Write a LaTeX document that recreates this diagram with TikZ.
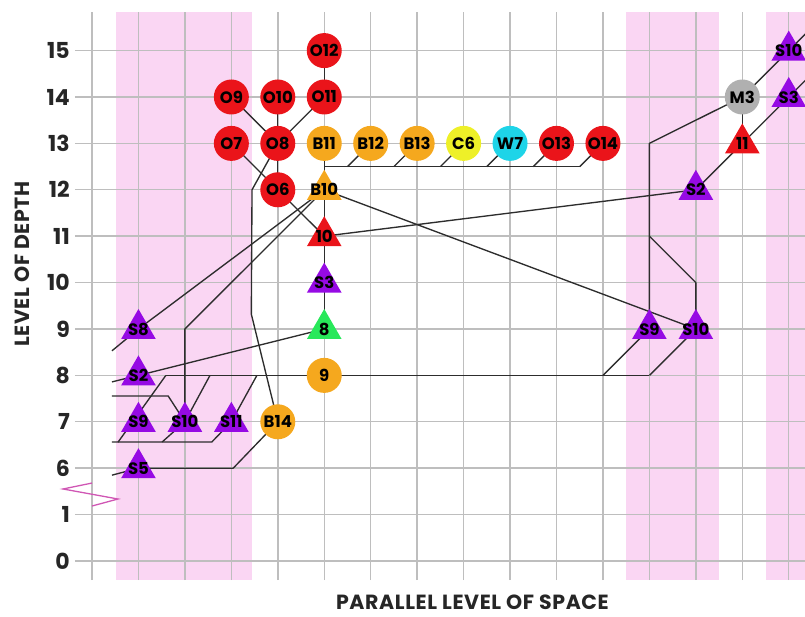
\documentclass[tikz,border=0pt]{standalone}
\usepackage{fontspec}
\setmainfont{Poppins}
\usetikzlibrary{shapes.geometric}
\pgfdeclarelayer{bands}
\pgfdeclarelayer{gridl}
\pgfdeclarelayer{edges}
\pgfsetlayers{bands,gridl,edges,main}
\definecolor{nred}{RGB}{234,20,26}
\definecolor{norange}{RGB}{245,168,30}
\definecolor{nyellow}{RGB}{238,240,40}
\definecolor{ncyan}{RGB}{30,212,232}
\definecolor{npurple}{RGB}{150,10,228}
\definecolor{ngreen}{RGB}{40,232,90}
\definecolor{ngray}{RGB}{176,176,176}
\definecolor{bandc}{RGB}{250,214,243}
\definecolor{gridc}{RGB}{190,190,190}
\definecolor{edgec}{RGB}{45,45,45}
\definecolor{zigc}{RGB}{208,86,180}
\begin{document}
\begin{tikzpicture}[x=46.45pt,y=46.4pt,
  circ/.style={circle, fill=#1, minimum size=35pt, inner sep=0pt},
  tri/.style={regular polygon, regular polygon sides=3, fill=#1, minimum size=40pt, inner sep=0pt},
  labtext/.style={inner sep=0pt, text=black, font=\fontsize{16.5}{16.5}\selectfont\bfseries},
  lab/.style={label={[labtext]center:#1}},
  gridline/.style={draw=gridc, line width=1.4pt},
  edge/.style={draw=edgec, line width=1.35pt, line join=round},
  axnum/.style={font=\fontsize{22}{22}\selectfont\bfseries, text=black!85, inner sep=0pt},
  axtitle/.style={font=\fontsize{20.5}{20.5}\selectfont\bfseries\addfontfeature{LetterSpace=3}, text=black!85, inner sep=0pt},
  zig/.style={draw=zigc, line width=1.3pt, line join=miter}]
\useasboundingbox (-1.9806,-1.2069) rectangle (15.3498,12.0905);
\clip (-1.9806,-1.2069) rectangle (15.3498,12.0905);
\begin{pgfonlayer}{bands}
  \fill[bandc] (0.517,-0.41) rectangle (3.445,11.83);
  \fill[bandc] (11.5,-0.41) rectangle (13.5,11.83);
  \fill[bandc] (14.5,-0.41) rectangle (16,11.83);
\end{pgfonlayer}
\begin{pgfonlayer}{gridl}
  \foreach \c in {0,...,16} \draw[gridline] (\c,-0.41) -- (\c,11.83);
  \foreach \r in {0,...,11} \draw[gridline] (-0.366,\r) -- (16,\r);
\end{pgfonlayer}
% axis labels
\foreach \r/\t in {0/0,1/1,2/6,3/7,4/8,5/9,6/10,7/11,8/12,9/13,10/14,11/15}
  \node[axnum, anchor=east] (ax\r) at (-0.474,\r) {\t};
\node[axtitle, rotate=90] (ytitle) at (-1.507,6.40) {LEVEL OF DEPTH};
\node[axtitle] (xtitle) at (8.19,-0.884) {PARALLEL LEVEL OF SPACE};
% break mark
\draw[zig] (0,1.68) -- (-0.624,1.552) -- (0.56,1.336) -- (0,1.185);
% nodes
\node[circ=nred, lab=O12] (O12) at (5,11) {};
\node[circ=nred, lab=O9] (O9) at (3,10) {};
\node[circ=nred, lab=O10] (O10) at (4,10) {};
\node[circ=nred, lab=O11] (O11) at (5,10) {};
\node[circ=nred, lab=O7] (O7) at (3,9) {};
\node[circ=nred, lab=O8] (O8) at (4,9) {};
\node[circ=norange, lab=B11] (B11) at (5,9) {};
\node[circ=norange, lab=B12] (B12) at (6,9) {};
\node[circ=norange, lab=B13] (B13) at (7,9) {};
\node[circ=nyellow, lab=C6] (C6) at (8,9) {};
\node[circ=ncyan, lab=W7] (W7) at (9,9) {};
\node[circ=nred, lab=O13] (O13) at (10,9) {};
\node[circ=nred, lab=O14] (O14) at (11,9) {};
\node[circ=nred, lab=O6] (O6) at (4,8) {};
\node[tri=norange, lab=B10] (B10) at (5,8) {};
\node[tri=nred, lab=10] (T10) at (5,7) {};
\node[tri=npurple, lab=S3] (S3) at (5,6) {};
\node[tri=ngreen, lab=8] (T8) at (5,5) {};
\node[circ=norange, lab=9] (C9) at (5,4) {};
\node[tri=npurple, lab=S8] (S8) at (1,5) {};
\node[tri=npurple, lab=S2] (S2) at (1,4) {};
\node[tri=npurple, lab=S9] (S9) at (1,3) {};
\node[tri=npurple, lab=S10] (S10) at (2,3) {};
\node[tri=npurple, lab=S11] (S11) at (3,3) {};
\node[tri=npurple, lab=S5] (S5) at (1,2) {};
\node[circ=norange, lab=B14] (B14) at (4,3) {};
\node[tri=npurple, lab=S9] (S9r) at (12,5) {};
\node[tri=npurple, lab=S10] (S10r) at (13,5) {};
\node[tri=npurple, lab=S2] (S2r) at (13,8) {};
\node[tri=nred, lab=11] (T11) at (14,9) {};
\node[circ=ngray, lab=M3] (M3) at (14,10) {};
\node[tri=npurple, lab=S3] (S3r) at (15,10) {};
\node[tri=npurple, lab=S10] (S10f) at (15,11) {};
% free ends and junctions
\coordinate (hL) at (1.59,4);
\coordinate (hR) at (12,4);
\coordinate (bL) at (5,8.5);
\coordinate (bR) at (10.5,8.5);
\coordinate (edgeA) at (16,11);
\coordinate (edgeB) at (16,12);
\begin{pgfonlayer}{edges}
  \draw[edge] (O12.center) -- (O11.center);
  \draw[edge] (O9.center) -- (O8.center);
  \draw[edge] (O10.center) -- (O8.center);
  \draw[edge] (O11.center) -- (O8.center);
  \draw[edge] (O8.center) -- (O6.center);
  \draw[edge] (O7.center) -- (O6.center);
  \draw[edge] (O6.center) -- (T10.center);
  \draw[edge] (O8.center) -- (3.445,8) -- (3.43,5.32) -- (B14.center);
  \draw[edge] (B11.center) -- (B10.center) -- (T10.center) -- (S3.center) -- (T8.center);
  \draw[edge] (bL) -- (bR);
  \draw[edge] (B12.center) -- (5.5,8.5);
  \draw[edge] (B13.center) -- (6.5,8.5);
  \draw[edge] (C6.center) -- (7.5,8.5);
  \draw[edge] (W7.center) -- (8.5,8.5);
  \draw[edge] (O13.center) -- (9.5,8.5);
  \draw[edge] (O14.center) -- (bR);
  \draw[edge] (S8.center) -- (B10.center);
  \draw[edge] (S10.center) -- (2,5) -- (B10.center);
  \draw[edge] (S2.center) -- (T8.center);
  \draw[edge] (B10.center) -- (S10r.center);
  \draw[edge] (T10.center) -- (S2r.center);
  \draw[edge] (S2r.center) -- (T11.center) -- (S3r.center) -- (edgeA);
  \draw[edge] (T11.center) -- (M3.center);
  \draw[edge] (M3.center) -- (S10f.center) -- (edgeB);
  \draw[edge] (M3.center) -- (12,9) -- (S9r.center);
  \draw[edge] (12,7) -- (13,6) -- (S10r.center);
  \draw[edge] (S9r.center) -- (11,4);
  \draw[edge] (S10r.center) -- (hR);
  \draw[edge] (hL) -- (hR);
  \draw[edge] (0.56,2.56) -- (hL);
  \draw[edge] (S10.center) -- (2.54,4);
  \draw[edge] (S11.center) -- (3.55,4);
  \draw[edge] (0.43,2.565) -- (2.58,2.565) -- (S11.center);
  \draw[edge] (S10.center) -- (1.51,2.565);
  \draw[edge] (0.43,3.556) -- (1.64,3.556) -- (S10.center);
  \draw[edge] (0.43,1.85) -- (S5.center);
  \draw[edge] (S5.center) -- (3.04,2) -- (B14.center);
  \draw[edge] (0.43,3.86) -- (S2.center);
  \draw[edge] (0.43,4.53) -- (S8.center);
\end{pgfonlayer}
\end{tikzpicture}
\end{document}
